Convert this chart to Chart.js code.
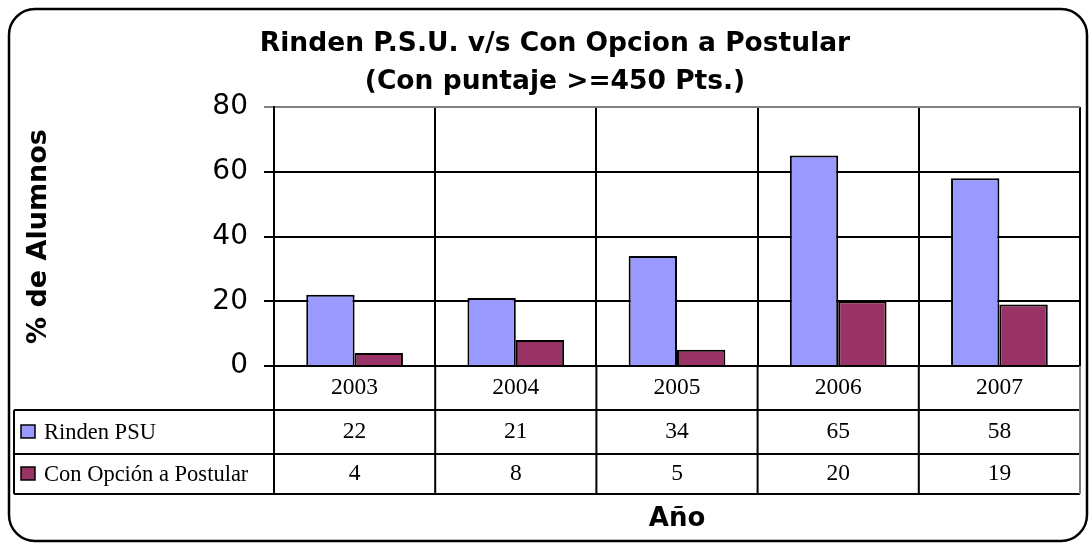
<!DOCTYPE html>
<html>
<head>
<meta charset="utf-8">
<script src="https://cdn.jsdelivr.net/npm/chart.js@4"></script>
<style>
  body { margin: 0; background: #fff; }
  canvas { display: block; }
</style>
</head>
<body>
<canvas id="grafico" width="1092" height="544"></canvas>
<script>
// datos del grafico
const anios = ['2003', '2004', '2005', '2006', '2007'];
const rindenPSU = [22, 21, 34, 65, 58];
const conOpcion = [4, 8, 5, 20, 19];
const nombresSeries = ['Rinden PSU', 'Con Opción a Postular'];
const ticksY = [0, 20, 40, 60, 80];
const titulo = ['Rinden P.S.U. v/s Con Opcion a Postular', '(Con puntaje >=450 Pts.)'];

const colores = ['#9999FF', '#993366'];
const fuenteTitulo = '"DejaVu Sans", sans-serif';
const fuenteTabla = '"Liberation Serif", serif';

// titulo, marco redondeado y tabla de datos bajo el eje
const tablaPlugin = {
    id: 'tablaDatos',
    afterDraw(chart) {
        const ctx = chart.ctx;
        const area = chart.chartArea;
        const x = chart.scales.x;
        const filaAlto = [44, 44, 40];
        const izq = 14;
        const y0 = area.bottom;
        const y1 = y0 + filaAlto[0];
        const y2 = y1 + filaAlto[1];
        const y3 = y2 + filaAlto[2];

        ctx.save();
        // titulo
        ctx.fillStyle = '#000';
        ctx.textAlign = 'center';
        ctx.textBaseline = 'middle';
        ctx.font = 'bold 26.5px ' + fuenteTitulo;
        ctx.fillText(titulo[0], 555, 44);
        ctx.fillText(titulo[1], 555, 82);

        // lineas de la tabla
        ctx.strokeStyle = '#000';
        ctx.lineWidth = 2;
        ctx.beginPath();
        ctx.moveTo(izq, y1); ctx.lineTo(area.right, y1);
        ctx.moveTo(izq, y2); ctx.lineTo(area.right, y2);
        ctx.moveTo(izq, y3); ctx.lineTo(area.right, y3);
        ctx.moveTo(izq, y1); ctx.lineTo(izq, y3);
        ctx.moveTo(area.left, y0); ctx.lineTo(area.left, y3);
        const ancho = (x.getPixelForValue(1) - x.getPixelForValue(0));
        for (let i = 1; i < anios.length; i++) {
            const xl = x.getPixelForValue(i) - ancho / 2;
            ctx.moveTo(xl, y0); ctx.lineTo(xl, y3);
        }
        ctx.stroke();
        ctx.strokeStyle = '#808080';
        ctx.beginPath();
        ctx.moveTo(area.right, y0); ctx.lineTo(area.right, y3);
        ctx.stroke();

        // textos
        ctx.font = '23.5px ' + fuenteTabla;
        ctx.fillStyle = '#000';
        const filas = [rindenPSU, conOpcion];
        anios.forEach((a, i) => {
            const cx = x.getPixelForValue(i);
            ctx.fillText(a, cx, (y0 + y1) / 2);
            ctx.fillText(String(filas[0][i]), cx, (y1 + y2) / 2);
            ctx.fillText(String(filas[1][i]), cx, (y2 + y3) / 2);
        });
        ctx.textAlign = 'left';
        ctx.font = '22.5px ' + fuenteTabla;
        [[y1, y2], [y2, y3]].forEach((f, k) => {
            const cy = (f[0] + f[1]) / 2;
            ctx.fillStyle = colores[k];
            ctx.fillRect(21, cy - 7, 14, 13);
            ctx.lineWidth = 1.5;
            ctx.strokeStyle = '#000';
            ctx.strokeRect(21, cy - 7, 14, 13);
            ctx.fillStyle = '#000';
            ctx.fillText(nombresSeries[k], 44, cy + 1);
        });

        // marco
        ctx.lineWidth = 2.5;
        ctx.strokeStyle = '#000';
        ctx.beginPath();
        ctx.roundRect(9, 9, 1078, 532, 26);
        ctx.stroke();
        ctx.restore();
    }
};

new Chart(document.getElementById('grafico'), {
    type: 'bar',
    data: {
        labels: anios,
        datasets: [{
            label: nombresSeries[0],
            data: rindenPSU,
            backgroundColor: colores[0],
            borderColor: '#000',
            borderWidth: 2
        }, {
            label: nombresSeries[1],
            data: conOpcion,
            backgroundColor: colores[1],
            borderColor: '#000',
            borderWidth: 2
        }]
    },
    options: {
        responsive: false,
        animation: false,
        devicePixelRatio: 1,
        layout: { padding: { left: 14, right: 12, top: 107, bottom: 0 } },
        datasets: { bar: { categoryPercentage: 0.6, barPercentage: 1 } },
        plugins: {
            legend: { display: false },
            tooltip: { enabled: false }
        },
        scales: {
            x: {
                grid: {
                    offset: true,
                    drawTicks: false,
                    lineWidth: 2,
                    color: ctx => ctx.index === anios.length ? '#808080' : '#000'
                },
                border: { color: '#000', width: 2 },
                ticks: { display: false },
                title: {
                    display: true,
                    text: 'Año',
                    color: '#000',
                    font: { family: fuenteTitulo, size: 26, weight: 'bold' },
                    padding: { top: 0, bottom: 9 }
                },
                afterFit: s => { s.height = 178; }
            },
            y: {
                min: 0,
                max: 80,
                afterBuildTicks: s => { s.ticks = ticksY.map(v => ({ value: v })); },
                grid: {
                    lineWidth: 2,
                    tickLength: 10,
                    color: ctx => ctx.tick && ctx.tick.value === 80 ? '#808080' : '#000'
                },
                border: { color: '#000', width: 2 },
                ticks: {
                    color: '#000',
                    padding: 16,
                    font: { family: fuenteTitulo, size: 28 }
                },
                title: {
                    display: true,
                    text: '% de Alumnos',
                    color: '#000',
                    font: { family: fuenteTitulo, size: 27, weight: 'bold' },
                    padding: { top: 9, bottom: 0 }
                },
                afterFit: s => { s.width = 274 - 14; }
            }
        }
    },
    plugins: [tablaPlugin]
});
</script>
</body>
</html>
